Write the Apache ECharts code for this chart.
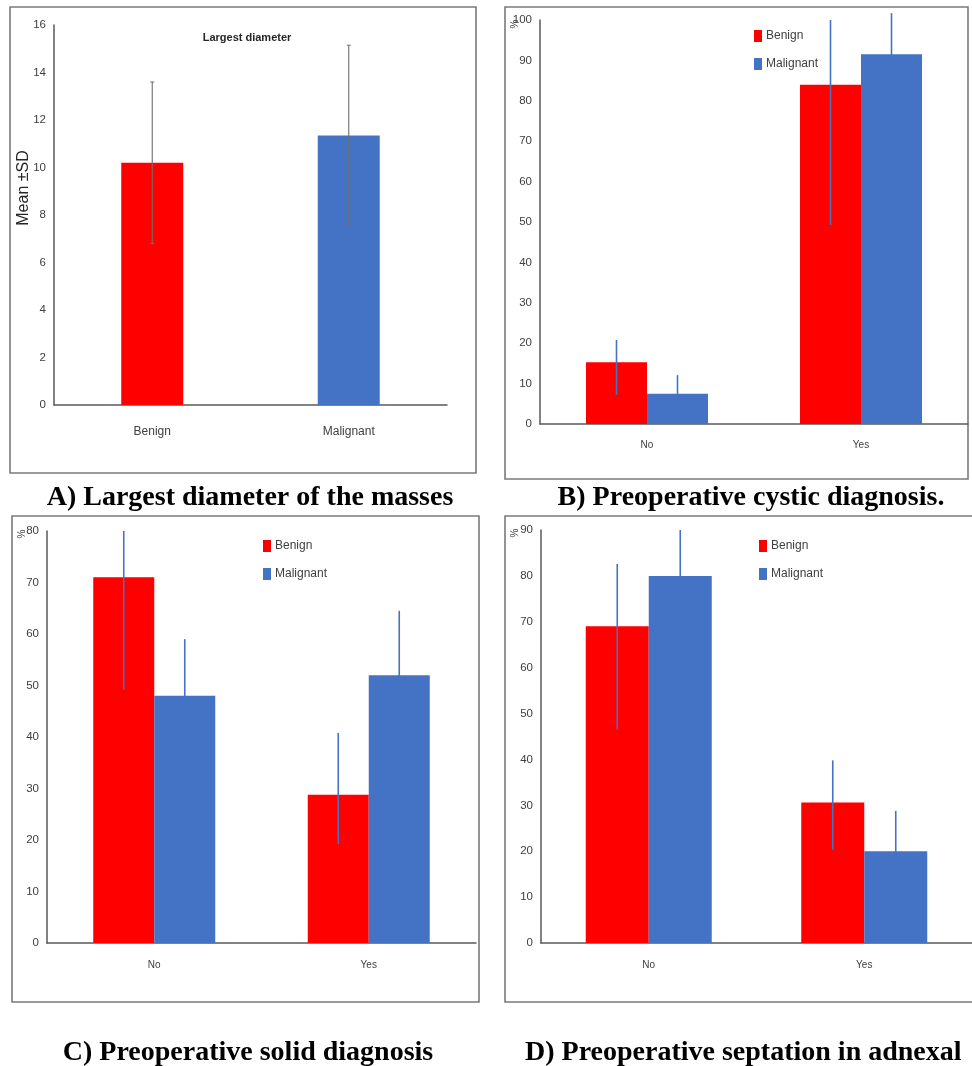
<!DOCTYPE html>
<html>
<head>
<meta charset="utf-8">
<script src="https://cdn.jsdelivr.net/npm/echarts@6/dist/echarts.min.js"></script>
<style>
html,body{margin:0;padding:0;background:#fff;}
#c{width:972px;height:1066px;}
</style>
</head>
<body>
<div id="c"></div>
<script>
// ---- Data ----
var catsA = ['Benign', 'Malignant'];
var meanA = [10.2, 11.35];
var sdA = [3.4, 3.8];

var catsYN = ['No', 'Yes'];
// B) Preoperative cystic diagnosis
var benB = [15.3, 84];
var benBLow = [7.2, 49.3];
var benBHigh = [20.8, 100];
var malB = [7.5, 91.5];
var malBLow = [2.9, 81.3];
var malBHigh = [12.1, 101.7];
// C) Preoperative solid diagnosis
var benC = [71, 28.8];
var benCLow = [49.2, 19.2];
var benCHigh = [80, 40.8];
var malC = [48, 52];
var malCLow = [37, 39.5];
var malCHigh = [59, 64.5];
// D) Preoperative septation in adnexal
var benD = [69, 30.6];
var benDLow = [46.5, 20.3];
var benDHigh = [82.6, 39.8];
var malD = [80, 20];
var malDLow = [70, 11.2];
var malDHigh = [90, 28.8];

var ticksA = [0, 16, 2];
var ticksB = [0, 100, 10];
var ticksC = [0, 80, 10];
var ticksD = [0, 90, 10];

var RED = '#FF0000', BLUE = '#4472C4';
var AXIS = '#595959';
var TICKFONT = "'Liberation Sans Narrow', 'Liberation Sans', Arial, sans-serif";
var CAPFONT = "'Liberation Serif', 'Times New Roman', serif";

var chart = echarts.init(document.getElementById('c'), null, {renderer: 'canvas'});

var grids = [
  {left: 54, top: 25, width: 393, height: 380},
  {left: 540, top: 20, width: 428, height: 404},
  {left: 47, top: 531, width: 429, height: 412},
  {left: 541, top: 530, width: 441, height: 413}
];

function xAxisFor(gi, cats, fs, margin) {
  return {
    type: 'category', gridIndex: gi, data: cats,
    axisLine: {lineStyle: {color: AXIS, width: 1.5}},
    axisTick: {show: false},
    axisLabel: {color: '#404040', fontSize: fs, fontFamily: TICKFONT, margin: margin}
  };
}
function yAxisFor(gi, t, extra) {
  var o = {
    type: 'value', gridIndex: gi, min: t[0], max: t[1], interval: t[2],
    axisLine: {show: true, lineStyle: {color: AXIS, width: 1.5}},
    axisTick: {show: false},
    splitLine: {show: false},
    axisLabel: {color: '#404040', fontSize: 11.5, fontFamily: TICKFONT, margin: 8}
  };
  if (extra) for (var k in extra) o[k] = extra[k];
  return o;
}

// error-bar custom series (vertical line at bar centre, offset by half bar width)
function errSeries(gi, low, high, offset, color, cap) {
  var data = low.map(function (l, i) { return [i, l, high[i]]; });
  return {
    type: 'custom', xAxisIndex: gi, yAxisIndex: gi, clip: false, z: 5,
    silent: true,
    encode: {x: 0, y: [1, 2]},
    data: data,
    renderItem: function (params, api) {
      var p1 = api.coord([api.value(0), api.value(1)]);
      var p2 = api.coord([api.value(0), api.value(2)]);
      var x = p1[0] + offset;
      var children = [{
        type: 'line', shape: {x1: x, y1: p1[1], x2: x, y2: p2[1]},
        style: {stroke: color, lineWidth: cap ? 1.1 : 1.6}
      }];
      if (cap) {
        children.push({type: 'line', shape: {x1: x - cap, y1: p1[1], x2: x + cap, y2: p1[1]}, style: {stroke: color, lineWidth: 1}});
        children.push({type: 'line', shape: {x1: x - cap, y1: p2[1], x2: x + cap, y2: p2[1]}, style: {stroke: color, lineWidth: 1}});
      }
      return {type: 'group', children: children};
    }
  };
}

function barSeries(gi, name, data, color, w) {
  return {
    type: 'bar', name: name, xAxisIndex: gi, yAxisIndex: gi, data: data,
    barWidth: w, barGap: '0%', itemStyle: {color: color}, z: 2
  };
}

var series = [];
// A
series.push({
  type: 'bar', name: 'Largest diameter', xAxisIndex: 0, yAxisIndex: 0,
  data: meanA.map(function (v, i) { return {value: v, itemStyle: {color: i === 0 ? RED : BLUE}}; }),
  barWidth: 62, z: 2
});
series.push(errSeries(0, meanA.map(function (m, i) { return m - sdA[i]; }), meanA.map(function (m, i) { return m + sdA[i]; }), 0, '#6f6f6f', 2));
// B
series.push(barSeries(1, 'Benign', benB, RED, 61));
series.push(barSeries(1, 'Malignant', malB, BLUE, 61));
series.push(errSeries(1, benBLow, benBHigh, -30.5, BLUE, 0));
series.push(errSeries(1, malBLow, malBHigh, 30.5, BLUE, 0));
// C
series.push(barSeries(2, 'Benign', benC, RED, 61));
series.push(barSeries(2, 'Malignant', malC, BLUE, 61));
series.push(errSeries(2, benCLow, benCHigh, -30.5, BLUE, 0));
series.push(errSeries(2, malCLow, malCHigh, 30.5, BLUE, 0));
// D
series.push(barSeries(3, 'Benign', benD, RED, 63));
series.push(barSeries(3, 'Malignant', malD, BLUE, 63));
series.push(errSeries(3, benDLow, benDHigh, -31.5, BLUE, 0));
series.push(errSeries(3, malDLow, malDHigh, 31.5, BLUE, 0));

function legendAt(left, top) {
  return {
    data: ['Benign', 'Malignant'], orient: 'vertical', left: left, top: top,
    itemWidth: 8, itemHeight: 12, itemGap: 16, icon: 'rect',
    selectedMode: false,
    textStyle: {color: '#404040', fontSize: 12, fontFamily: TICKFONT, padding: [0, 0, 0, -1]}
  };
}

function frame(x, y, w, h) {
  return {
    type: 'rect', shape: {x: x, y: y, width: w, height: h},
    style: {fill: 'none', stroke: '#7a7a7a', lineWidth: 1.6}, z: -1
  };
}
function pctLabel(x, y) {
  return {
    type: 'text', x: x, y: y, rotation: Math.PI / 2, z: 10,
    style: {text: '%', fill: '#404040', font: "10px " + TICKFONT, textAlign: 'center', textVerticalAlign: 'middle'}
  };
}

var capStyle = {fontSize: 28, fontWeight: 'bold', color: '#000', fontFamily: CAPFONT};

var option = {
  backgroundColor: '#fff',
  animation: false,
  grid: grids,
  xAxis: [
    xAxisFor(0, catsA, 12, 21),
    xAxisFor(1, catsYN, 10, 16),
    xAxisFor(2, catsYN, 10, 17),
    xAxisFor(3, catsYN, 10, 17)
  ],
  yAxis: [
    yAxisFor(0, ticksA, {
      name: 'Mean ±SD', nameLocation: 'middle', nameGap: 22, nameMoveOverlap: false,
      nameTextStyle: {color: '#262626', fontSize: 16, fontFamily: "'Liberation Sans', Arial, sans-serif", padding: [0, 0, 0, 54]}
    }),
    yAxisFor(1, ticksB),
    yAxisFor(2, ticksC),
    yAxisFor(3, ticksD)
  ],
  legend: [legendAt(749, 25), legendAt(258, 535), legendAt(754, 535)],
  title: [
    {text: 'Largest diameter', left: 242, top: 27, textAlign: 'center',
      textStyle: {fontSize: 11, fontWeight: 'bold', color: '#262626', fontFamily: TICKFONT}},
    {text: 'A) Largest diameter of the masses', left: 245, top: 479, textAlign: 'center', textStyle: capStyle},
    {text: 'B) Preoperative cystic diagnosis.', left: 746, top: 479, textAlign: 'center', textStyle: capStyle},
    {text: 'C) Preoperative solid diagnosis', left: 243, top: 1034, textAlign: 'center', textStyle: capStyle},
    {text: 'D) Preoperative septation in adnexal', left: 520, top: 1034, textStyle: capStyle}
  ],
  graphic: [
    frame(10, 7, 466, 466),
    frame(505, 7, 463, 472),
    frame(12, 516, 467, 486),
    frame(505, 516, 480, 486),
    pctLabel(515, 24),
    pctLabel(22, 534),
    pctLabel(515, 533)
  ],
  series: series
};
chart.setOption(option);
</script>
</body>
</html>
